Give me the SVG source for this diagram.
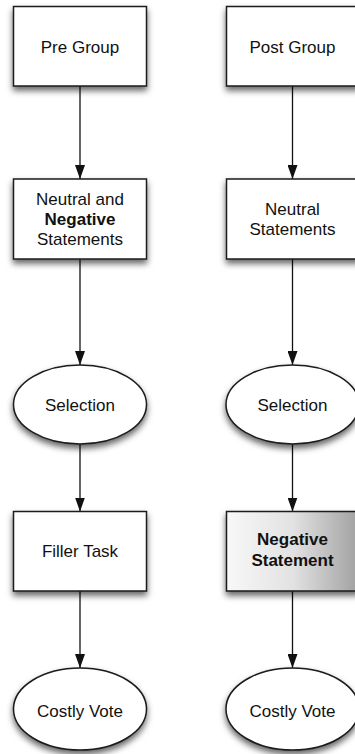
<svg xmlns="http://www.w3.org/2000/svg" width="355" height="754" viewBox="0 0 355 754">
  <style>
    .node { fill: #ffffff; stroke: #1a1a1a; stroke-width: 1.5; filter: url(#shadow); }
    .grad { fill: url(#greyFade); }
    .label { font-family: "Liberation Sans", Arial, sans-serif; font-size: 17px; fill: #111111; text-anchor: middle; }
    .bold { font-weight: bold; }
    .edge { stroke: #111111; stroke-width: 1.3; fill: none; marker-end: url(#arrow); }
  </style>
  <defs>
    <filter id="shadow" x="-20%" y="-20%" width="140%" height="150%">
      <feDropShadow dx="0" dy="4" stdDeviation="3" flood-color="#000000" flood-opacity="0.6"/>
    </filter>
    <linearGradient id="greyFade" x1="0" y1="0" x2="1" y2="0">
      <stop offset="0" stop-color="#f8f8f8"/>
      <stop offset="0.5" stop-color="#e2e2e2"/>
      <stop offset="1" stop-color="#a0a0a0"/>
    </linearGradient>
    <marker id="arrow" viewBox="0 0 14 10" refX="14" refY="5" markerWidth="14" markerHeight="10" markerUnits="userSpaceOnUse" orient="auto">
      <path d="M0,0 L14,5 L0,10 Z" fill="#111111"/>
    </marker>
  </defs>

  <rect width="355" height="754" fill="#ffffff"/>

  <!-- connectors -->
  <g id="connectors">
    <line class="edge" x1="80" y1="86" x2="80" y2="179"/>
    <line class="edge" x1="80" y1="259" x2="80" y2="365"/>
    <line class="edge" x1="80" y1="444" x2="80" y2="511.5"/>
    <line class="edge" x1="80" y1="591" x2="80" y2="668"/>
    <line class="edge" x1="292.5" y1="86" x2="292.5" y2="179"/>
    <line class="edge" x1="292.5" y1="259" x2="292.5" y2="365"/>
    <line class="edge" x1="292.5" y1="444" x2="292.5" y2="511.5"/>
    <line class="edge" x1="292.5" y1="591" x2="292.5" y2="668"/>
  </g>

  <!-- left column -->
  <g id="pre-group">
    <rect class="node" x="13.5" y="6.5" width="133" height="79.5"/>
    <text class="label" x="80" y="52.5">Pre Group</text>
  </g>
  <g id="neutral-negative">
    <rect class="node" x="13.5" y="179" width="133" height="80"/>
    <text class="label" x="80" y="204.5">Neutral and</text>
    <text class="label bold" x="80" y="224.5">Negative</text>
    <text class="label" x="80" y="244.5">Statements</text>
  </g>
  <g id="selection-left">
    <ellipse class="node" cx="80" cy="404.5" rx="66.5" ry="39.5"/>
    <text class="label" x="80" y="410.5">Selection</text>
  </g>
  <g id="filler-task">
    <rect class="node" x="13.5" y="511.5" width="133" height="79.5"/>
    <text class="label" x="80" y="557">Filler Task</text>
  </g>
  <g id="costly-vote-left">
    <ellipse class="node" cx="80" cy="709" rx="66.5" ry="41"/>
    <text class="label" x="80" y="716.5">Costly Vote</text>
  </g>

  <!-- right column -->
  <g id="post-group">
    <rect class="node" x="226.5" y="6.5" width="133" height="79.5"/>
    <text class="label" x="292.5" y="52.5">Post Group</text>
  </g>
  <g id="neutral">
    <rect class="node" x="226.5" y="179" width="133" height="80"/>
    <text class="label" x="292.5" y="215">Neutral</text>
    <text class="label" x="292.5" y="235">Statements</text>
  </g>
  <g id="selection-right">
    <ellipse class="node" cx="292.5" cy="404.5" rx="66.5" ry="39.5"/>
    <text class="label" x="292.5" y="410.5">Selection</text>
  </g>
  <g id="negative-statement">
    <rect class="node grad" x="226.5" y="511.5" width="133" height="79.5"/>
    <text class="label bold" x="292.5" y="545">Negative</text>
    <text class="label bold" x="292.5" y="566">Statement</text>
  </g>
  <g id="costly-vote-right">
    <ellipse class="node" cx="292.5" cy="709" rx="66.5" ry="41"/>
    <text class="label" x="292.5" y="716.5">Costly Vote</text>
  </g>
</svg>
